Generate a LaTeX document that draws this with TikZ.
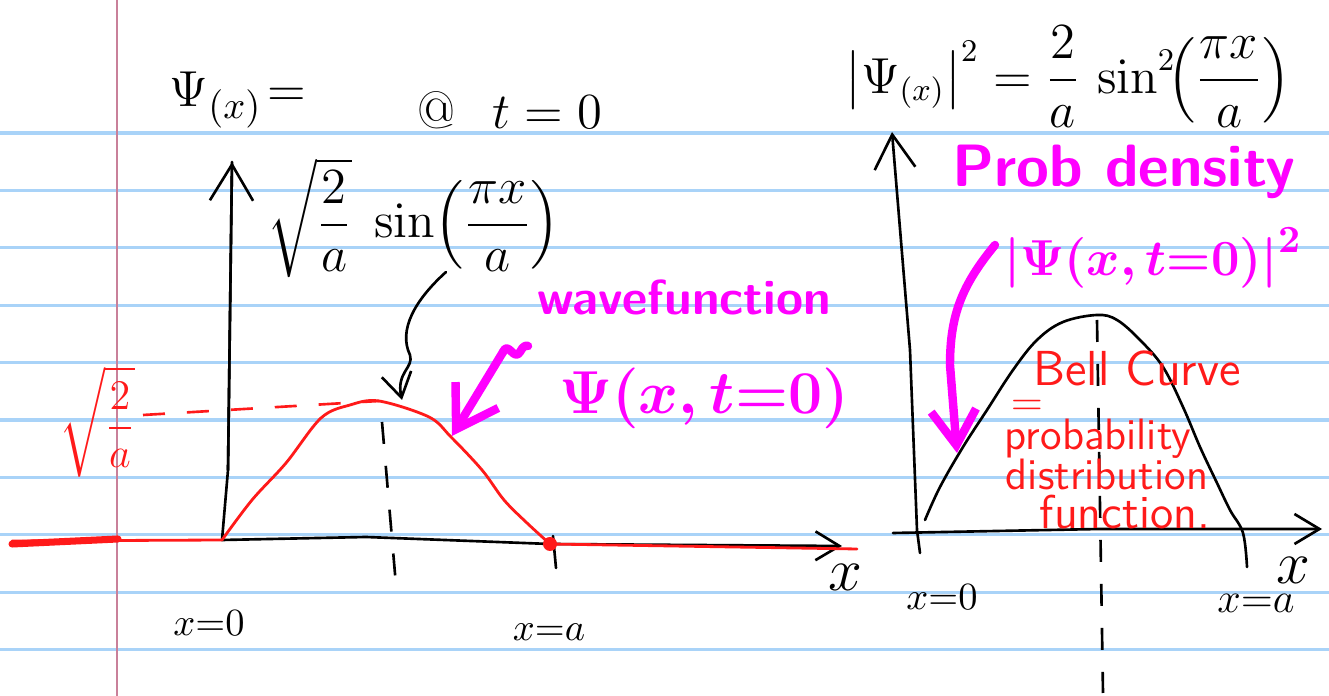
\documentclass[tikz,border=0pt]{standalone}
\usepackage{amsmath,amssymb}
\usetikzlibrary{arrows.meta}
\definecolor{ruleblue}{HTML}{A9D3F8}
\definecolor{marginred}{HTML}{C9809A}
\definecolor{penred}{HTML}{FF1A1A}
\definecolor{penpink}{HTML}{FF00FF}

\begin{document}
\begin{tikzpicture}[
 x=0.1mm, y=-0.1mm,
 ink/.style={line width=0.75pt, line cap=round, line join=round},
 axis/.style={ink, -{Straight Barb[length=#1, width=1.2*#1]}},
 penline/.style={penred, line width=0.8pt, line cap=round, line join=round},
 hl/.style={penpink, line width=2.4pt, line cap=round, line join=round},
 dashline/.style={#1, line width=0.75pt, dash pattern=on 2.2mm off 2.2mm},
 txt/.style={inner sep=0pt, font=\fontsize{#1}{#1}\selectfont},
 pinktxt/.style={txt=#1, text=penpink},
 redtxt/.style={txt=#1, text=penred},
 pinkword/.style={inner sep=0pt, text=penpink, font=\sffamily\bfseries\fontsize{#1}{#1}\selectfont},
 redword/.style={inner sep=0pt, text=penred, font=\sffamily\fontsize{#1}{#1}\selectfont}
]
\useasboundingbox (0,0) rectangle (1329,696);

% ruled paper
\foreach \k in {0,...,9}
 \draw[ruleblue, line width=0.9pt] (0,{133+57.4*\k}) -- (1329,{133+57.4*\k});
\draw[marginred, line width=0.7pt] (117,0) -- (117,696);

% Left: wavefunction at t=0
\node[txt=15] (psilabel) at (238,100) {$\Psi_{(x)}\!=$};
\node[txt=15] (atzero) at (510,110) {@\hspace{0.7em}$t=0$};
\node[txt=14] (sinform) at (414,218) {$\sqrt{\dfrac{2}{a}}\;\sin\!\left(\dfrac{\pi x}{a}\right)$};

\coordinate (O1) at (222,540);
\coordinate (Y1) at (232,162);
\coordinate (X1) at (842,546);
\coordinate (A1) at (550,544);
\draw[ink] (O1) -- (228,470) -- (Y1);
\draw[axis=3.6mm] (228,470) -- (Y1);
\draw[axis=2.4mm] (O1) -- (366,537) -- (A1) -- (X1);
\draw[ink] (553,536) -- (556,568);
\node[txt=16] (xL) at (845,577) {$x$};
\node[txt=11] (xzeroL) at (209,623) {$x{=}0$};
\node[txt=11] (xaL) at (549,632) {$x{=}a$};

% red curve and its height
\draw[penline, line width=2pt] (12,544) -- (118,539);
\draw[penline] (12,541) -- (O1);
\draw[penline] plot[smooth, tension=0.55] coordinates {(O1) (252,500) (286,463) (321,418)
 (350,405) (379,401) (429,417) (451,437) (482,470) (504,500) (527,523) (A1)};
\draw[penline] (A1) -- (857,549);
\fill[penred] (A1) circle (7);
\node[redtxt=13] (amp) at (97,422) {$\sqrt{\dfrac{2}{a}}$};
\coordinate (peak1) at (379,401);
\draw[dashline=penred] (143,415) -- (peak1);
\draw[dashline=black] (382,422) -- (397,597);

% pointer from the formula
\coordinate (sintip) at (402,400);
\draw[ink, -{Straight Barb[length=2.4mm, width=3mm]}] (446,272) .. controls (415,300) and (398,330) .. (410,355)
 .. controls (414,368) and (396,372) .. (sintip);

% magenta notes, left
\node[pinkword=14] (wavetxt) at (684,297) {wavefunction};
\node[pinktxt=17] (wavepsi) at (704,398) {$\boldsymbol{\Psi(x,t{=}0)}$};
\coordinate (wavetip) at (452,436);
\draw[hl, -{Straight Barb[length=4mm, width=5mm]}] (503,352) -- (wavetip);
\draw[hl] (503,352) .. controls (508,340) and (514,362) .. (520,352) .. controls (523,346) and (526,345) .. (528,346);

% Right: probability density
\node[txt=13.5] (densform) at (1068,77) {$\bigl|\Psi_{(x)}\bigr|^2 = \dfrac{2}{a}\,\sin^2\!\Bigl(\dfrac{\pi x}{a}\Bigr)$};

\coordinate (O2) at (917,530);
\coordinate (Y2) at (892,132);
\coordinate (X2) at (1322,529);
\draw[axis=3.4mm] (920,553) -- (O2) -- (910,350) -- (Y2);
\draw[axis=2.5mm] (893,533) -- (1100,529) -- (X2);
\node[txt=16] (xR) at (1293,570) {$x$};
\node[txt=11] (xzeroR) at (942,597) {$x{=}0$};
\node[txt=13] (xaR) at (1256,603) {$x{=}a$};

\draw[ink] plot[smooth, tension=0.6] coordinates {(925,520) (940,487) (963,447) (987,410) (1013,370)
 (1037,340) (1063,322) (1097,315) (1117,320) (1140,340) (1163,367) (1183,407) (1200,447)
 (1217,483) (1230,510) (1243,533) (1247,567)};
\draw[dashline=black] (1097,320) -- (1103,693);

\node[redword=14] (bell) at (1137,368) {Bell Curve};
\node[redtxt=12] (eqs) at (1027,408) {$=$};
\node[redword=12.5] (prob) at (1098,439) {probability};
\node[redword=12.5] (distr) at (1107,474) {distribution};
\node[redword=13.5] (func) at (1125,512) {function.};

% magenta notes, right
\node[pinkword=17] (probtxt) at (1124,172) {Prob density};
\node[pinktxt=15] (probpsi) at (1153,258) {$\boldsymbol{\left|\Psi(x,t{=}0)\right|^2}$};
\coordinate (densetip) at (957,453);
\draw[hl, -{Straight Barb[length=3.5mm, width=4.5mm]}] (995,245) .. controls (962,285) and (950,315) .. (950,365) -- (densetip);
\end{tikzpicture}
\end{document}
